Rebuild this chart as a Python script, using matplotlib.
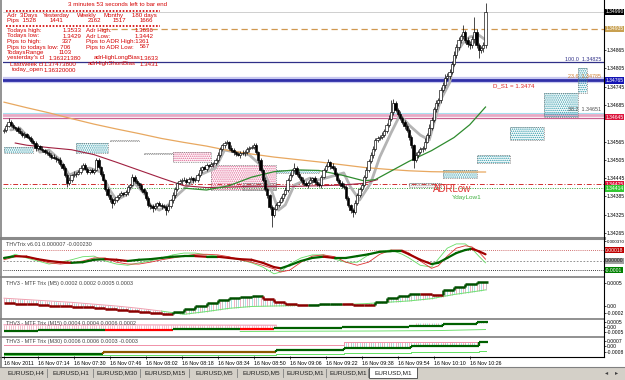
import matplotlib
matplotlib.use("Agg")
import matplotlib.pyplot as plt
import matplotlib.transforms as mtransforms
from matplotlib.patches import Rectangle
from matplotlib.lines import Line2D
from matplotlib.collections import LineCollection
import numpy as np

plt.rcParams['font.family'] = ['Liberation Sans', 'DejaVu Sans']
plt.rcParams['hatch.linewidth'] = 0.7

# ======================= DATA =======================
BASE = 1.34          # price = BASE + points * PT
PT = 1e-5

first_open = 598
closes = [
 603,615,629,620,612,609,600,594,586,590,580,576,568,560,544,550,541,537,532,527,
 521,515,512,506,504,490,478,455,429,440,455,460,458,465,478,488,476,465,470,466,
 471,504,480,460,439,410,389,375,363,372,384,389,395,392,399,415,422,448,435,428,
 422,410,399,380,357,352,347,355,363,358,352,350,340,352,372,389,410,429,435,440,
 439,432,442,445,438,439,455,471,480,476,488,485,490,494,505,521,540,553,560,563,
 545,537,530,524,521,528,526,530,540,544,548,553,530,504,470,439,410,389,350,324,
 345,357,368,380,392,406,440,455,470,478,460,448,439,430,422,430,438,445,432,425,
 422,450,471,485,498,485,478,460,439,428,420,416,380,357,340,334,365,389,410,422,
 450,471,500,521,540,570,575,580,586,600,619,640,662,690,668,655,642,630,615,603,
 580,553,504,520,530,540,544,565,586,610,635,670,690,701,734,750,773,780,793,820,
 849,875,898,910,924,898,885,881,900,924,880,865,870,881,990]
hi_ext = [
 6,8,13,5,7,4,6,9,5,7,4,6,8,5,7,6,4,9,5,6,
 7,5,8,6,4,9,5,7,6,8,5,7,4,6,9,5,8,6,4,7,
 5,6,7,5,8,4,6,5,9,7,5,6,8,4,7,6,5,10,6,8,
 5,7,4,8,6,5,7,9,4,6,5,8,6,7,5,9,6,4,8,5,
 7,6,5,8,4,7,6,9,5,6,8,4,7,5,6,9,8,5,6,7,
 5,8,6,4,7,5,9,6,8,5,7,7,6,5,8,4,9,6,5,7,
 6,8,5,7,4,9,6,8,5,16,6,7,5,8,4,6,9,5,7,6,
 8,5,7,6,9,4,8,6,5,7,6,8,5,7,4,6,9,7,5,8,
 6,9,7,8,10,6,8,5,9,7,8,12,39,15,8,6,9,7,5,8,
 6,7,5,9,8,6,7,10,8,12,9,8,11,7,10,9,12,8,10,9,
 12,10,11,9,23,8,10,9,12,49,10,8,9,11,29]
lo_ext = [
 5,7,4,8,6,5,7,4,6,8,5,6,7,4,9,6,5,7,8,5,
 6,8,5,7,9,6,5,8,13,6,7,5,8,4,6,7,5,8,6,5,
 7,4,6,9,5,8,6,7,16,5,6,8,4,7,5,9,6,4,7,5,
 8,6,5,7,6,9,13,5,8,6,7,4,16,6,5,7,9,6,4,8,
 5,7,6,4,8,5,7,6,9,5,7,6,4,8,5,7,6,5,8,4,
 7,5,8,6,4,9,5,7,6,8,5,6,7,9,6,8,7,9,6,40,
 8,6,7,5,9,6,8,5,7,6,8,5,7,6,4,9,5,8,6,7,
 5,8,6,7,4,9,5,8,7,6,9,7,8,6,9,17,6,8,5,7,
 6,8,5,7,9,6,8,5,7,6,8,5,7,9,6,8,7,6,9,8,
 9,8,26,7,9,6,8,7,6,9,8,7,9,8,10,7,9,8,10,7,
 8,10,9,11,8,9,10,12,9,11,10,26,9,10,8]

# moving averages / smoothed line (bar index, points)
ma_slow_bars = [0,10,20,30,40,50,60,70,80,90,100,110,120,130,140,150,160,170,180,190,200,210,214]
ma_slow_vals = [694,676,659,640,622,606,591,575,562,550,535,524,514,506,498,489,480,474,469,466,465,465,465]
ma_mid_bars = [5,10,20,30,40,50,60,70,80,90,100,110,120,130,140,150,160,166]
ma_mid_vals = [560,553,545,538,522,497,471,445,420,414,416,418,418,418,420,422,428,440]
ma_fast_bars = [80,90,100,110,120,130,140,150,160,165,170,180,190,200,207,214]
ma_fast_vals = [412,406,420,448,466,472,470,455,436,440,460,500,535,578,620,678]
smooth_bars = [3,7,12,16,20,25,29,34,38,43,47,50,54,58,63,65,69,73,77,83,87,94,98,105,109,
               114,118,122,125,129,136,140,151,154,158,163,167,172,176,180,185,189,194,198,201,204,207,211,214]
smooth_vals = [603,609,570,530,537,504,455,471,478,465,406,373,389,429,389,357,340,357,389,429,455,478,537,527,521,
               488,422,340,357,422,445,439,462,416,373,429,514,593,652,619,586,570,701,757,855,888,908,914,898]

# pivot zones (bar from, bar to, low pts, high pts, kind)
zone_b0 = [0,32,47,62,75,92,106,121,180,195,210,225,240,255]
zone_b1 = [13,46,60,75,92,121,121,140,194,210,225,240,255,259]
zone_lo = [527,527,567,524,498,406,406,462,416,445,494,570,645,724]
zone_hi = [547,560,570,527,530,488,429,471,429,471,521,612,724,806]
zone_kind = ['c','c','g','g','p','p','g','c','g','c','c','c','c','c']

# levels (points)
lvl_bid, lvl_tan, lvl_fib100, lvl_blue, lvl_pink, lvl_red, lvl_green = 990, 935, 825, 765, 645, 425, 414
price_ticks = [865,805,745,685,565,505,445,385,325,265]

# THVTrix panel (units 1e-5)
p1_bars = [0,5,10,15,20,25,30,35,40,45,50,55,60,65,70,75,80,85,90,95,100,105,110,115,120,
           123,127,132,137,142,147,152,157,162,167,172,177,180,185,190,193,197,201,205,208,211,214]
p1_main = [5,8,7,3,0,-2,-3,-2,2,3,2,0,2,3,5,7,8,8,7,7,5,3,2,-3,-10,
           -12,-7,0,5,7,5,5,8,11,15,16,16,11,2,-5,-3,5,13,18,20,16,11]
p1_fast = [3,11,5,0,-5,-2,2,7,8,0,-5,-7,-3,0,5,10,13,13,10,8,5,2,-3,-10,-21,
           -18,-5,5,10,10,3,-2,-2,10,16,18,11,5,-7,-10,3,21,28,28,20,8,-3]
p1_slow = [2,7,8,2,-3,-5,-3,0,5,5,-2,-5,-5,-2,2,5,8,11,11,10,7,2,-2,-7,-13,
           -18,-15,-2,8,10,7,-2,-7,-2,11,18,18,13,0,-12,-8,8,21,25,23,15,3]

# MTF Trix M5 (units 1e-5)
p2_bars = list(range(0, 215, 5))
p2_vals = [7,5,4,2,1,0,-2,-3,-4,-7,-9,-11,-13,-15,-17,-13,-7,0,7,13,17,20,22,15,9,4,2,3,4,5,4,2,2,9,17,22,26,25,24,35,41,48,52]
p2_up = [0]*15 + [1]*8 + [0]*4 + [1]*3 + [0]*3 + [1]*4 + [0]*2 + [1]*4
p2_sig_bars = [0,10,20,30,40,50,60,70,80,90,100,110,120,130,140,150,160,170,180,190,200,210,214]
p2_sig_vals = [17,14,11,8,4,0,-5,-11,-18,-12,-5,-1,0,1,2,3,5,8,11,16,25,32,35]

# MTF Trix M15
p3_bars = list(range(0, 215, 15))
p3_vals = [-35,-33,-30,-32,-34,-20,-15,-17,-8,-5,0,5,12,30,50]
p3_up = [1,1,1,0,0,1,1,0,1,1,1,1,1,1,1]
p3_pink_bars = [0,30,60,90,121]
p3_pink_vals = [22,20,21,19,18]
p3_lime_bars = [105,135,165,195,214]
p3_lime_vals = [-45,-42,-40,-35,-25]
p3_hist_top = 45

# MTF Trix M30
p4_bars = [0,44,121,151,181,211]
p4_vals = [-112,-84,-56,-28,0,56]
p4_up = [1,0,1,1,1,1]
p4_pink_bars = [0,151,214]
p4_pink_vals = [14,56,56]
p4_lime_bars = [0,60,121,151,181,211,214]
p4_lime_vals = [-126,-126,-112,-98,-84,-70,-70]

time_bars = [0,15,31,47,63,79,95,111,127,143,159,175,191,207]
time_labels = ["16 Nov 2011","16 Nov 07:14","16 Nov 07:30","16 Nov 07:46","16 Nov 08:02",
               "16 Nov 08:18","16 Nov 08:34","16 Nov 08:50","16 Nov 09:06","16 Nov 09:22",
               "16 Nov 09:38","16 Nov 09:54","16 Nov 10:10","16 Nov 10:26"]
tab_names = ["EURUSD,H4","EURUSD,H1","EURUSD,M30","EURUSD,M15","EURUSD,M5",
             "EURUSD,M5","EURUSD,M1","EURUSD,M1","EURUSD,M1"]

# ======================= LAYOUT =======================
W, H = 625, 380
fig = plt.figure(figsize=(W/100, H/100), dpi=100)
fig.patch.set_facecolor('white')

def fx(px): return px / W
def fy(py): return 1 - py / H
def axrect(x0, y0, x1, y1): return [fx(x0), fy(y1), (x1-x0)/W, (y1-y0)/H]
def ftext(px, py, s, **kw):
    kw.setdefault('va', 'center')
    fig.text(fx(px), fy(py), s, **kw)
def fhline(py, x0, x1, **kw):
    fig.add_artist(Line2D([fx(x0), fx(x1)], [fy(py), fy(py)], transform=fig.transFigure, **kw))
def fvline(px, y0, y1, **kw):
    fig.add_artist(Line2D([fx(px), fx(px)], [fy(y0), fy(y1)], transform=fig.transFigure, **kw))

PX_L, PX_R = 3, 604
BAR_PX, BAR0_PX = 2.25, 4.0
XLIM = ((PX_L - BAR0_PX) / BAR_PX, (PX_R - BAR0_PX) / BAR_PX)

def P(v): return BASE + np.asarray(v, dtype=float) * PT

def style_axes(a):
    a.set_xlim(*XLIM)
    for s in a.spines.values():
        s.set_visible(False)
    a.set_xticks([])
    a.yaxis.tick_right()
    a.tick_params(axis='y', labelsize=3.6, length=1.2, width=0.5, pad=0.8, colors='black')
    a.set_facecolor('white')

def tag(a, y, s, bg, fg='white'):
    tr = mtransforms.blended_transform_factory(a.transAxes, a.transData)
    a.text(1.002, y, s, transform=tr, fontsize=3.6, color=fg, va='center', ha='left',
           bbox=dict(boxstyle='square,pad=0.12', fc=bg, ec='none'), zorder=30, clip_on=False)

# ---------------- main price window ----------------
ax = fig.add_axes(axrect(PX_L, 0, PX_R, 236))
style_axes(ax)
ax.set_ylim(1.342552, 1.350289)
ax.set_yticks(P(price_ticks))
ax.set_yticklabels([f"{p:.5f}" for p in P(price_ticks)])

# horizontal levels
ax.axhline(P(lvl_bid), color='#C8C8C8', lw=0.6, zorder=1)
ax.hlines(P(lvl_tan), 43, XLIM[1], color='#D09850', lw=0.9, linestyles=(0, (5, 3)), zorder=2)
ax.axhline(P(lvl_fib100), color='#303088', lw=0.9, zorder=2)
ax.axhline(P(lvl_blue), color='#C8C8F0', lw=4.5, zorder=2)
ax.axhline(P(lvl_blue), color='#3030A8', lw=2.0, zorder=2)
ax.axhline(P(lvl_pink + 15), color='#A8E0F0', lw=0.8, zorder=2)
ax.axhline(P(lvl_pink + 6), color='#E8A8C4', lw=2.0, zorder=2)
ax.axhline(P(lvl_pink - 2), color='#C86090', lw=0.9, zorder=2)
ax.axhline(P(lvl_red), color='#D03030', lw=0.7, ls=(0, (5, 2, 1, 2)), zorder=2)
ax.axhline(P(lvl_green), color='#30A030', lw=0.7, ls=(0, (1, 1.5)), zorder=2)

# pivot zones
hcol = {'c': '#2E9AAA', 'p': '#E06090', 'g': '#A0A0A0'}
for b0, b1, lo, hi, k in zip(zone_b0, zone_b1, zone_lo, zone_hi, zone_kind):
    ax.add_patch(Rectangle((b0, P(lo)), b1 - b0, (hi - lo) * PT, fill=False, hatch='........',
                           edgecolor=hcol[k], lw=0, zorder=2))
    ax.add_patch(Rectangle((b0, P(lo)), b1 - b0, (hi - lo) * PT, fill=False,
                           edgecolor='#707070', lw=0.45, ls=(0, (2, 1.5)), zorder=2))

# moving averages
ax.plot(smooth_bars, P(smooth_vals), color='#B4B4B4', lw=2.0, solid_capstyle='round', zorder=3)
ax.plot(ma_slow_bars, P(ma_slow_vals), color='#E8A860', lw=0.9, zorder=4)
ax.plot(ma_mid_bars, P(ma_mid_vals), color='#A02040', lw=0.8, zorder=4)
ax.plot(ma_fast_bars, P(ma_fast_vals), color='#2E8B2E', lw=0.9, zorder=4)

# candles
n = len(closes)
bars = np.arange(n)
c = np.array(closes, dtype=float)
o = np.array([first_open] + closes[:-1], dtype=float)
hi = np.maximum(o, c) + np.array(hi_ext[:n])
lo = np.minimum(o, c) - np.array(lo_ext[:n])
ax.vlines(bars, P(lo), P(hi), color='black', lw=0.5, zorder=5)
up = c >= o
bh = np.maximum(np.abs(c - o), 1) * PT
bot = P(np.minimum(o, c))
ax.bar(bars[up], bh[up], bottom=bot[up], width=0.9, color='white', edgecolor='black', lw=0.45, zorder=6)
ax.bar(bars[~up], bh[~up], bottom=bot[~up], width=0.9, color='black', edgecolor='black', lw=0.45, zorder=6)

# labels in chart
def bx(px): return (px - BAR0_PX) / BAR_PX
ax.text(bx(601), P(lvl_fib100 + 2), "100.0  1.34825", fontsize=3.9, color='#303088', ha='right', va='bottom', zorder=10)
ax.text(bx(601), P(lvl_blue + 5), "23.6  1.34785", fontsize=3.9, color='#D08030', ha='right', va='bottom', zorder=10)
ax.text(bx(601), P(lvl_pink + 16), "38.2  1.34651", fontsize=3.9, color='#505050', ha='right', va='bottom', zorder=10)
ax.text(bx(493), P(lvl_blue - 8), "D_S1 = 1.3474", fontsize=4.4, color='#DD2222', ha='left', va='top', zorder=10)
ax.text(bx(433), P(lvl_green - 5), "ADRLow", fontsize=7, color='#E03030', ha='left', va='center', zorder=10)
ax.text(bx(452), P(lvl_green - 32), "YdayLow1", fontsize=4.6, color='#40B040', ha='left', va='center', zorder=10)

for v, s, bg in [(lvl_bid, "1.34990", '#000000'), (lvl_tan, "1.34935", '#C8A050'),
                 (lvl_blue, "1.34765", '#1414B4'), (lvl_pink, "1.34645", '#DC143C'),
                 (lvl_red, "1.34425", '#DC143C'), (lvl_green - 3, "1.34414", '#32C832')]:
    tag(ax, P(v), s, bg)

# info text block
RED = '#D40000'
FS = 4.4
ftext(118, 4.5, "3 minutes 53 seconds left to bar end", fontsize=FS, color=RED, ha='center')
fhline(10.5, 6, 160, color=RED, lw=1.2, ls=(0, (1, 1)))
fhline(25.5, 6, 160, color=RED, lw=1.2, ls=(0, (1, 1)))
rows = [
    (15.5, [(7, "Adr  3Days"), (43, "Yesterday"), (77, "Weekly"), (104, "Monthy"), (132, "180 days")]),
    (20.5, [(7, "Pips  1528"), (50, "1441"), (88, "2162"), (113, "1517"), (140, "1666")]),
    (30.5, [(7, "Todays high:"), (63, "1.3533"), (86, "Adr High:"), (135, "1.3636")]),
    (36.0, [(7, "Todays low:"), (63, "1.3429"), (86, "Adr Low:"), (135, "1.3442")]),
    (41.5, [(7, "Pips to high:"), (62, "337"), (86, "Pips to ADR High:1361")]),
    (47.0, [(7, "Pips to todays low: 706"), (86, "Pips to ADR Low:"), (140, "567")]),
    (52.5, [(7, "TodaysRange"), (59, "1103")]),
    (58.0, [(7, "yesterday's cl"), (49, "1.36321380"), (94, "adrHighLongBias"), (140, "1.3633")]),
    (64.0, [(10, "LastWeek cl"), (44, "1.37473800"), (88, "adrHighShortBias"), (140, "1.3431")]),
    (70.0, [(12, "today_open"), (44, "1.36320000")]),
]
for yy, items in rows:
    for xx, s in items:
        ftext(xx, yy, s, fontsize=FS, color=RED, ha='left')

# ---------------- panel 1: THVTrix ----------------
a1 = fig.add_axes(axrect(PX_L, 240, PX_R, 276))
style_axes(a1)
a1.set_ylim(-24.6, 34.4)
a1.set_yticks([32])
a1.set_yticklabels(["0.000370"], fontsize=3.2)
a1.axhline(18, color='#C04040', lw=0.6, ls=(0, (1, 1.5)))
a1.axhline(0, color='#808080', lw=0.6, ls=(0, (2, 2)))
a1.axhline(-15, color='#000000', lw=0.6, ls=(0, (1, 1.5)))
a1.plot(p1_bars, p1_fast, color='#66DD66', lw=0.6)
a1.plot(p1_bars, p1_slow, color='#DD3333', lw=0.6)
segs, cols = [], []
for k in range(len(p1_bars) - 1):
    segs.append([(p1_bars[k], p1_main[k]), (p1_bars[k+1], p1_main[k+1])])
    cols.append('#006400' if p1_main[k+1] >= p1_main[k] else '#A00000')
a1.add_collection(LineCollection(segs, colors=cols, linewidths=1.6, capstyle='round'))
tag(a1, 18, "0.00018", '#C00000')
tag(a1, 0, "0.00000", '#A0A0A0', fg='#202020')
tag(a1, -15, "-0.0001", '#008000')
ftext(6, 244.5, "THVTrix v6.01 0.000007 -0.000230", fontsize=3.9, color='#404040', ha='left')

# helper for coloured step lines
def step_line(a, bxs, vals, flags, end_bar, upc, dnc, lw):
    segs, cols = [], []
    for k in range(len(bxs)):
        x0 = bxs[k]
        x1 = bxs[k+1] if k + 1 < len(bxs) else end_bar
        col = upc if flags[k] else dnc
        if k > 0:
            segs.append([(x0, vals[k-1]), (x0, vals[k])]); cols.append(col)
        segs.append([(x0, vals[k]), (x1, vals[k])]); cols.append(col)
    a.add_collection(LineCollection(segs, colors=cols, linewidths=lw, capstyle='butt'))

def step_value(bxs, vals, i):
    k = np.searchsorted(bxs, i, side='right') - 1
    return vals[max(k, 0)]

HIST = ['#F2B0C4', '#C4C4C4', '#A8E4E4']

# ---------------- panel 2: MTF Trix M5 ----------------
a2 = fig.add_axes(axrect(PX_L, 278, PX_R, 318))
style_axes(a2)
a2.set_ylim(-26, 60.8)
a2.set_yticks([50, 0, -15])
a2.set_yticklabels(["0.0005", "0.00", "-0.0002"])
for i in range(n):
    tv = step_value(p2_bars, p2_vals, i)
    sv = np.interp(i, p2_sig_bars, p2_sig_vals)
    a2.vlines(i, min(tv, sv), max(tv, sv), color=HIST[i % 3], lw=0.7)
a2.plot([b for b in p2_sig_bars if b <= 70], [v for b, v in zip(p2_sig_bars, p2_sig_vals) if b <= 70], color='#F0A0B0', lw=0.7)
a2.plot([b for b in p2_sig_bars if b >= 70], [v for b, v in zip(p2_sig_bars, p2_sig_vals) if b >= 70], color='#70E070', lw=0.7)
step_line(a2, p2_bars, p2_vals, p2_up, n, '#005000', '#8B0000', 1.8)
ftext(6, 283, "THV3 - MTF Trix (M5) 0.0002 0.0002 0.0005 0.0003", fontsize=3.9, color='#404040', ha='left')

# ---------------- panel 3: MTF Trix M15 ----------------
a3 = fig.add_axes(axrect(PX_L, 320, PX_R, 336))
style_axes(a3)
a3.set_ylim(-90, 70)
a3.set_yticks([50, 0, -50])
a3.set_yticklabels(["0.0005", "0.00", "-0.0005"])
for i in range(n):
    tv = step_value(p3_bars, p3_vals, i)
    if i <= p3_pink_bars[-1]:
        pv = np.interp(i, p3_pink_bars, p3_pink_vals)
        a3.vlines(i, tv, pv, color='#F4B8C8', lw=0.6)
    if i >= 183:
        a3.vlines(i, tv, p3_hist_top, color=HIST[i % 3], lw=0.7)
a3.plot(p3_pink_bars, p3_pink_vals, color='#F08CA8', lw=0.7)
a3.plot(p3_lime_bars, p3_lime_vals, color='#70E070', lw=0.7)
step_line(a3, p3_bars, p3_vals, p3_up, n, '#006000', '#FF0000', 1.6)
ftext(6, 324, "THV3 - MTF Trix (M15) 0.0004 0.0004 0.0006 0.0002", fontsize=3.9, color='#404040', ha='left')

# ---------------- panel 4: MTF Trix M30 ----------------
a4 = fig.add_axes(axrect(PX_L, 338, PX_R, 356))
style_axes(a4)
a4.set_ylim(-140, 112)
a4.set_yticks([70, 0, -84])
a4.set_yticklabels(["0.0007", "0.00", "-0.0008"])
for i in range(151, n):
    tv = step_value(p4_bars, p4_vals, i)
    pv = step_value(p4_pink_bars, p4_pink_vals, i)
    a4.vlines(i, tv, pv, color=HIST[i % 3], lw=0.7)
a4.step(p4_pink_bars, p4_pink_vals, where='post', color='#F090A8', lw=0.7)
a4.step(p4_lime_bars, p4_lime_vals, where='post', color='#60E060', lw=0.7)
step_line(a4, p4_bars, p4_vals, p4_up, n, '#006000', '#8B5A00', 1.6)
ftext(6, 342, "THV3 - MTF Trix (M30) 0.0006 0.0006 0.0003 -0.0003", fontsize=3.9, color='#404040', ha='left')

# time axis
a4.set_xticks(time_bars)
a4.set_xticklabels(time_labels)
a4.tick_params(axis='x', labelsize=3.8, length=2, width=0.5, pad=1.5, colors='black')
for lbl in a4.get_xticklabels():
    lbl.set_horizontalalignment('left')

# frames / separators
fhline(237.5, 0, PX_R, color='#8A8A8A', lw=2.2)
for yy in (277, 319, 337):
    fhline(yy, 0, PX_R, color='#909090', lw=1.4)
fhline(356.5, 0, PX_R, color='#000000', lw=0.8)
fvline(PX_R, 0, 357, color='#000000', lw=0.8)
fvline(1.2, 0, 367, color='#808080', lw=1.2)

# tab bar
fig.add_artist(Rectangle((0, 0), 1, fy(366.5), transform=fig.transFigure, fc='#D4D0C8', ec='none'))
fhline(366.5, 0, W, color='#808080', lw=0.8)
tab_edges = [3, 48, 94, 141, 190, 238, 284, 327, 369, 417]
for k, name in enumerate(tab_names):
    x0, x1 = tab_edges[k], tab_edges[k+1]
    if k == len(tab_names) - 1:
        fig.add_artist(Rectangle((fx(x0), fy(378)), fx(x1) - fx(x0), fy(366.5) - fy(378),
                                 transform=fig.transFigure, fc='white', ec='#404040', lw=0.6))
    else:
        fvline(x1 - 1, 369, 377, color='#808080', lw=0.6)
    ftext((x0 + x1) / 2, 372.5, name, fontsize=4.6, color='#202020', ha='center')
ftext(607, 373, "\u25C2", fontsize=4.5, color='#404040', ha='center', family=['DejaVu Sans'])
ftext(617, 373, "\u25B8", fontsize=4.5, color='#404040', ha='center', family=['DejaVu Sans'])

fig.savefig("out.png", dpi=100, facecolor=fig.get_facecolor())
